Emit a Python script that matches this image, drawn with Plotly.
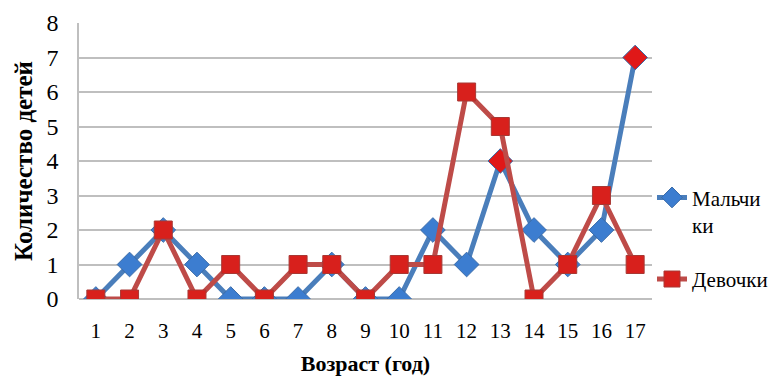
import plotly.graph_objects as go

ages = [str(i) for i in range(1, 18)]
boys = [0, 1, 2, 1, 0, 0, 0, 1, 0, 0, 2, 1, 4, 2, 1, 2, 7]
girls = [0, 0, 2, 0, 1, 0, 1, 1, 0, 1, 1, 6, 5, 0, 1, 3, 1]
boys_name = "Мальчи<br>ки"
girls_name = "Девочки"
y_ticks = list(range(0, 9))

boy_marker_colors = ["#3C7DD0"] * 17
boy_marker_colors[12] = "#E01818"
boy_marker_colors[16] = "#E01818"

font = "Liberation Serif"

fig = go.Figure()
fig.add_trace(go.Scatter(
    x=ages, y=boys, name=boys_name, mode="lines+markers", legendgroup="b",
    line=dict(color="#4A7EBB", width=5),
    marker=dict(symbol="diamond", size=19, color=boy_marker_colors,
                line=dict(color="#3A6BA8", width=1)),
))
fig.add_trace(go.Scatter(
    x=ages, y=girls, name=girls_name, mode="lines+markers", legendgroup="g",
    line=dict(color="#BE4B48", width=5),
    marker=dict(symbol="square", size=18, color="#D8201C",
                line=dict(color="#A83834", width=1)),
))

fig.update_layout(
    width=772, height=376,
    margin=dict(l=79, r=120, t=23, b=77, autoexpand=False),
    paper_bgcolor="white", plot_bgcolor="white",
    font=dict(family=font, size=20, color="black"),
    showlegend=True,
    legend=dict(x=1.0, xanchor="left", y=0.22, yanchor="middle",
                font=dict(family=font, size=21, color="black"),
                traceorder="grouped", tracegroupgap=24, valign="top",
                itemwidth=30, bgcolor="rgba(0,0,0,0)"),
    xaxis=dict(
        type="category", range=[-0.5, 16.5], showgrid=False, showline=False,
        zeroline=False, ticks="", tickfont=dict(size=21), automargin=False,
        ticklabelstandoff=17,
        title=dict(text="<b>Возраст (год)</b>", font=dict(size=22), standoff=13),
    ),
    yaxis=dict(
        range=[0, 8], tickvals=y_ticks, showgrid=True, gridcolor="#BFBFBF",
        gridwidth=1.5, showline=True, linecolor="#BFBFBF", linewidth=1.5,
        zeroline=True, zerolinecolor="#BFBFBF", zerolinewidth=1.5, automargin=False,
        ticks="", tickfont=dict(size=24), ticklabelstandoff=14,
        title=dict(text="<b>Количество детей</b>", font=dict(size=25), standoff=7),
    ),
)

fig.write_html("out.html", config={"displayModeBar": False},
               post_script="document.body.style.margin='0';")
